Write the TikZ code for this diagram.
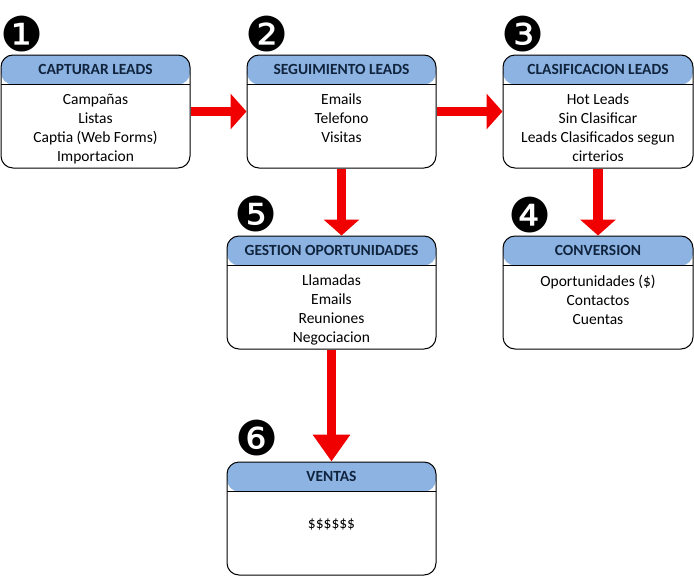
\documentclass[tikz,border=0pt]{standalone}
\usepackage{fontspec}
\setmainfont{Carlito}
\newfontfamily\dingfont{DejaVu Sans}
\usetikzlibrary{arrows.meta,positioning}
\definecolor{headblue}{RGB}{141,179,226}
\definecolor{headtext}{RGB}{16,36,62}
\definecolor{arrowred}{RGB}{240,0,0}

\begin{document}
\begin{tikzpicture}[x=1pt,y=-1pt,
  stage/.style={draw,line width=1pt,rounded corners=12pt,minimum height=113pt,inner sep=0pt,
    path picture={\fill[headblue] (path picture bounding box.north west) rectangle ([yshift=-29.5pt]path picture bounding box.north east);
      \draw[line width=1pt] ([yshift=-29.5pt]path picture bounding box.north west) -- ([yshift=-29.5pt]path picture bounding box.north east);}},
  headline/.style={font=\bfseries\fontsize{15.5}{18}\selectfont,text=headtext,inner sep=0pt},
  items/.style={align=center,font=\fontsize{15.5}{19}\selectfont,anchor=north,inner sep=0pt},
  num/.style={font=\dingfont\fontsize{48}{48}\selectfont,inner sep=0pt},
  flow/.style={arrowred,line width=9.5pt,-{Triangle[length=16pt,width=35pt]}}]

\useasboundingbox (0,0) rectangle (694,576);

\node[stage,minimum width=189pt] (b1) at (95.5,111.5) {};
\node[stage,minimum width=189pt] (b2) at (341.5,111.5) {};
\node[stage,minimum width=190pt] (b3) at (598,111.5) {};
\node[stage,minimum width=209pt] (b5) at (331.5,292.5) {};
\node[stage,minimum width=190pt] (b4) at (598,292.5) {};
\node[stage,minimum width=209pt] (b6) at (331.5,518.5) {};

\node[headline] (t1) at ([yshift=-14.75pt]b1.north) {CAPTURAR LEADS};
\node[headline] (t2) at ([yshift=-14.75pt]b2.north) {SEGUIMIENTO LEADS};
\node[headline] (t3) at ([yshift=-14.75pt]b3.north) {CLASIFICACION LEADS};
\node[headline] (t5) at ([yshift=-14.75pt]b5.north) {GESTION OPORTUNIDADES};
\node[headline] (t4) at ([yshift=-14.75pt]b4.north) {CONVERSION};
\node[headline] (t6) at ([yshift=-14.75pt]b6.north) {VENTAS};

\node[items] (l1) at ([yshift=-39pt]b1.north) {Campañas\\Listas\\Captia (Web Forms)\\Importacion};
\node[items] (l2) at ([yshift=-39pt]b2.north) {Emails\\Telefono\\Visitas};
\node[items] (l3) at ([yshift=-39pt]b3.north) {Hot Leads\\Sin Clasificar\\Leads Clasificados segun\\cirterios};
\node[items] (l5) at ([yshift=-39pt]b5.north) {Llamadas\\Emails\\Reuniones\\Negociacion};
\node[items] (l4) at ([yshift=-39pt]b4.north) {Oportunidades (\$)\\Contactos\\Cuentas};
\node[items,anchor=center] (l6) at ([yshift=-63pt]b6.north) {\$\$\$\$\$\$};

\node[num] (n1) at (22,34) {❶};
\node[num] (n2) at (267.5,34) {❷};
\node[num] (n3) at (523,34) {❸};
\node[num] (n5) at (256.5,214.5) {❺};
\node[num] (n4) at (530,215) {❹};
\node[num] (n6) at (257,438.5) {❻};

\draw[flow] (b1) -- (b2);
\draw[flow] (b2) -- (b3);
\draw[flow] (b2.south) -- (b2.south |- b5.north);
\draw[flow] (b3) -- (b4);
\draw[flow,-{Triangle[length=27pt,width=36pt]}] (b5) -- (b6);
\end{tikzpicture}
\end{document}
